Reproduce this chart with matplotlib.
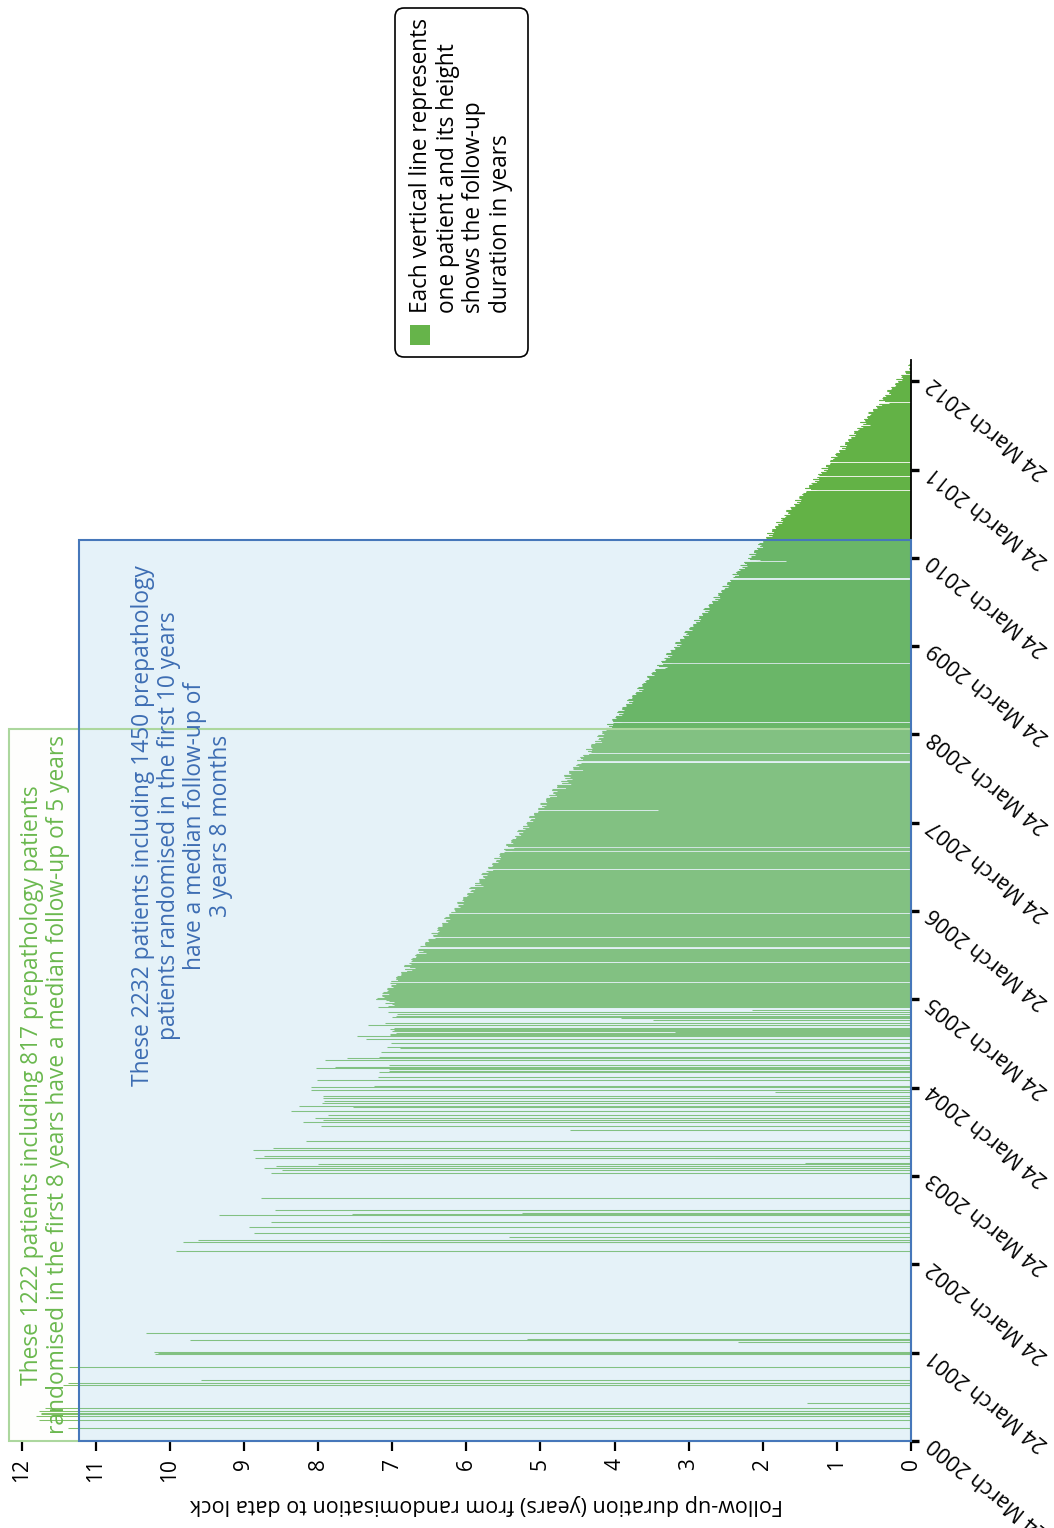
import numpy as np
import matplotlib
matplotlib.use("Agg")
import matplotlib.pyplot as plt
from matplotlib.patches import Rectangle, FancyBboxPatch
from matplotlib.transforms import IdentityTransform

plt.rcParams['font.family'] = ['Open Sans', 'DejaVu Sans']

# ---------------------------------------------------------------------------
# Data. Time is measured in years after 24 March 2000 (first randomisation).
# ---------------------------------------------------------------------------

# Patients randomised during the slow early phase (2000 - March 2005)
early_rand = [
    0.142, 0.238, 0.279, 0.305, 0.320, 0.336, 0.370, 0.432, 0.634, 0.660,
    0.687, 0.690, 0.836, 0.990, 1.000, 1.011, 1.118, 1.148, 1.152, 1.221,
    2.148, 2.250, 2.254, 2.258, 2.273, 2.307, 2.359, 2.420, 2.477, 2.556,
    2.573, 2.579, 2.585, 2.616, 2.752, 3.039, 3.069, 3.088, 3.114, 3.131,
    3.137, 3.143, 3.200, 3.205, 3.210, 3.228, 3.296, 3.318, 3.398,
    3.522, 3.567, 3.613, 3.635, 3.658, 3.692, 3.737, 3.783, 3.794, 3.828,
    3.851, 3.884, 3.907, 3.952, 3.975, 4.009, 4.020, 4.088, 4.122, 4.179,
    4.190, 4.213, 4.224, 4.236, 4.258, 4.315, 4.337, 4.349, 4.405, 4.451,
    4.462, 4.507, 4.553, 4.587, 4.598, 4.609, 4.621, 4.626, 4.643, 4.655,
    4.666, 4.677, 4.711, 4.734, 4.768, 4.790, 4.802, 4.813, 4.836, 4.858,
    4.881, 4.915, 4.926, 4.938, 4.949, 4.960, 4.972, 4.983, 4.994,
]
early_followup = [
    11.38, 11.77, 11.80, 11.74, 11.74, 11.77, 11.68, 1.40, 11.44, 11.38,
    9.58, 1.10, 11.36, 10.20, 10.16, 10.22, 2.33, 9.73, 5.18, 10.32,
    9.92, 9.82, 9.32, 7.15, 9.62, 5.43, 8.87, 8.93, 8.63, 9.33,
    7.54, 5.25, 4.73, 8.58, 8.77, 8.63, 8.49, 8.73, 8.57, 8.00,
    6.86, 1.43, 8.85, 8.73, 2.64, 8.73, 8.88, 8.61, 8.16,
    4.60, 7.96, 8.20, 7.94, 8.04, 7.86, 8.36, 7.53, 8.26, 7.95,
    7.92, 7.93, 7.93, 1.84, 8.09, 8.10, 7.25, 8.02, 7.19, 7.18,
    7.04, 7.04, 8.03, 7.77, 7.04, 7.91, 7.61, 7.18, 7.15, 6.90,
    7.07, 7.02, 7.36, 7.48, 7.03, 7.03, 6.95, 3.18, 7.00, 6.98,
    7.03, 6.97, 7.32, 7.10, 3.48, 3.91, 7.00, 6.95, 6.94, 7.05,
    2.14, 7.19, 7.05, 6.97, 7.00, 7.10, 6.98, 7.04, 7.08,
]

# Steady recruitment: patients randomised per month from 24 March 2005
monthly_start = 5.0
recruits_2005 = [25, 27, 28, 26, 28, 22, 27, 29, 29, 27, 30, 29]
recruits_2006 = [29, 31, 30, 31, 30, 26, 31, 33, 32, 31, 33, 32]
recruits_2007 = [32, 33, 32, 33, 33, 28, 33, 34, 34, 33, 34, 31]
recruits_2008 = [37, 37, 38, 36, 39, 35, 38, 40, 39, 37, 41, 40]
recruits_2009 = [39, 40, 38, 40, 39, 35, 40, 42, 41, 40, 42, 42]
recruits_2010 = [42, 42, 42, 41, 40, 36, 41, 43, 42, 40, 43, 41]
recruits_2011 = [40, 41, 39, 41, 40, 35, 40, 42, 41, 39, 41, 38]
recruits_2012 = [36, 30, 14]

# Short breaks in recruitment (centre, length in years)
pause_centre = [5.198, 5.428, 5.583, 5.704, 5.980, 6.478, 6.678, 6.724,
                7.146, 7.690, 7.788, 8.139, 8.758, 8.807, 9.768, 9.969,
                10.767, 10.929, 11.084, 11.506, 11.763]
pause_length = [0.02, 0.02, 0.03, 0.02, 0.02, 0.02, 0.02, 0.02,
                0.02, 0.035, 0.02, 0.02, 0.02, 0.02, 0.03, 0.02,
                0.02, 0.02, 0.02, 0.02, 0.02]

# Single patients randomised inside those breaks
pause_rand = [7.146, 9.969, 11.506]
pause_followup = [3.41, 1.69, 0.55]

# Data lock and gap between last contact and lock (cycled per small batch)
data_lock = 12.22
contact_lag = [0.00, 0.08, 0.17, 0.04, 0.12, 0.02, 0.20, 0.06,
               0.14, 0.03, 0.10, 0.16, 0.05, 0.18, 0.09]

year_ticks = [0, 1, 2, 3, 4, 5, 6, 7, 8, 9, 10, 11, 12]
year_labels = ['0', '1', '2', '3', '4', '5', '6', '7', '8', '9', '10', '11', '12']
date_ticks = [0, 1, 2, 3, 4, 5, 6, 7, 8, 9, 10, 11, 12]
date_labels = ['24 March 2000', '24 March 2001', '24 March 2002',
               '24 March 2003', '24 March 2004', '24 March 2005',
               '24 March 2006', '24 March 2007', '24 March 2008',
               '24 March 2009', '24 March 2010', '24 March 2011',
               '24 March 2012']

first8_years = 8.06
first10_years = 10.2

# ---------------------------------------------------------------------------
# Build the per-patient table for the steady recruitment period
# ---------------------------------------------------------------------------
monthly = (recruits_2005 + recruits_2006 + recruits_2007 + recruits_2008 +
           recruits_2009 + recruits_2010 + recruits_2011 + recruits_2012)
steady_rand = []
for m, n in enumerate(monthly):
    a = monthly_start + m / 12.0
    b = min(a + 1 / 12.0, data_lock)
    grid = np.linspace(a, b, 600, endpoint=False)
    ok = np.ones(grid.size, dtype=bool)
    for c, L in zip(pause_centre, pause_length):
        ok &= ~((grid >= c - L / 2) & (grid < c + L / 2))
    avail = grid[ok]
    idx = ((np.arange(n) + 0.5) * avail.size / n).astype(int)
    steady_rand.extend(avail[idx])
steady_rand = np.array(steady_rand)
lag = np.array([contact_lag[(i // 4) % len(contact_lag)]
                for i in range(steady_rand.size)])
steady_followup = np.clip(data_lock - steady_rand - lag, 0.005, None)

rand = np.concatenate([early_rand, steady_rand, pause_rand])
followup = np.concatenate([early_followup, steady_followup, pause_followup])

# ---------------------------------------------------------------------------
# Figure
# ---------------------------------------------------------------------------
W, H = 1054, 1528
fig = plt.figure(figsize=(W / 100, H / 100), dpi=100)
ax = fig.add_axes([9 / W, 87 / H, 902 / W, 1081 / H])

BAR = '#63b246'
lines = ax.hlines(rand, 0, followup, colors=BAR, linewidth=0.75, zorder=1)
lines.set_snap(True)

ax.set_xlim(12.17, 0)
ax.set_ylim(0, 12.24)

# shaded boxes for the two cohorts
ax.add_patch(Rectangle((0, 0), 12.17, first8_years, facecolor=(250/255, 252/255, 245/255),
                       alpha=0.2, edgecolor='none', zorder=2))
ax.add_patch(Rectangle((0, 0), 11.23, first10_years, facecolor=(136/255, 198/255, 231/255),
                       alpha=0.21, edgecolor='none', zorder=2.1))
ax.add_patch(Rectangle((0, 0), 12.17, first8_years, fill=False, edgecolor='#acd79e',
                       linewidth=1.5, zorder=4, clip_on=False))
ax.add_patch(Rectangle((0, 0), 11.23, first10_years, fill=False, edgecolor='#4677ba',
                       linewidth=1.5, zorder=4.1, clip_on=False))

for s in ['left', 'top', 'bottom']:
    ax.spines[s].set_visible(False)
ax.spines['right'].set_linewidth(1.3)
ax.spines['right'].set_color('black')

ax.yaxis.tick_right()
ax.set_yticks(date_ticks)
ax.set_yticklabels(date_labels, rotation=141, rotation_mode='anchor',
                   ha='right', va='center', fontsize=15.5)
ax.tick_params(axis='y', direction='out', length=6, width=2.4, pad=8, colors='black')

ax.set_xticks(year_ticks)
ax.set_xticklabels(year_labels, rotation=90, fontsize=15)
ax.tick_params(axis='x', direction='out', length=7, width=1.6, pad=5, colors='black')

ax.set_xlabel('Follow-up duration (years) from randomisation to data lock',
              rotation=180, fontsize=15.5)
ax.xaxis.set_label_coords(0.529, -0.0592)
ax.xaxis.label.set_va('center')


def px(x, y):
    return x / W, 1 - y / H


fig.text(*px(45, 1085),
         'These 1222 patients including 817 prepathology patients\n'
         'randomised in the first 8 years have a median follow-up of 5 years',
         rotation=90, ha='center', va='center', multialignment='center',
         color='#6ab84e', fontsize=16.4, linespacing=1.08)

fig.text(*px(182, 826),
         'These 2232 patients including 1450 prepathology\n'
         'patients randomised in the first 10 years\n'
         'have a median follow-up of\n'
         '3 years 8 months',
         rotation=90, ha='center', va='center', multialignment='center',
         color='#3d6db3', fontsize=16.4, linespacing=1.12)

# legend box
r = 9
box = FancyBboxPatch((395 + r, H - 357 + r), 133 - 2 * r, 349 - 2 * r,
                     boxstyle=f'round,pad={r}', transform=IdentityTransform(),
                     facecolor='white', edgecolor='black', linewidth=1.2)
fig.patches.append(box)
fig.patches.append(Rectangle((410, H - 345), 20, 20, transform=IdentityTransform(),
                             facecolor='#66b44a', edgecolor='none'))
fig.text(*px(409, 313),
         'Each vertical line represents\none patient and its height\n'
         'shows the follow-up\nduration in years',
         rotation=90, ha='left', va='bottom', multialignment='left',
         color='black', fontsize=16.3, linespacing=1.14)

fig.savefig('out.png', dpi=100)
